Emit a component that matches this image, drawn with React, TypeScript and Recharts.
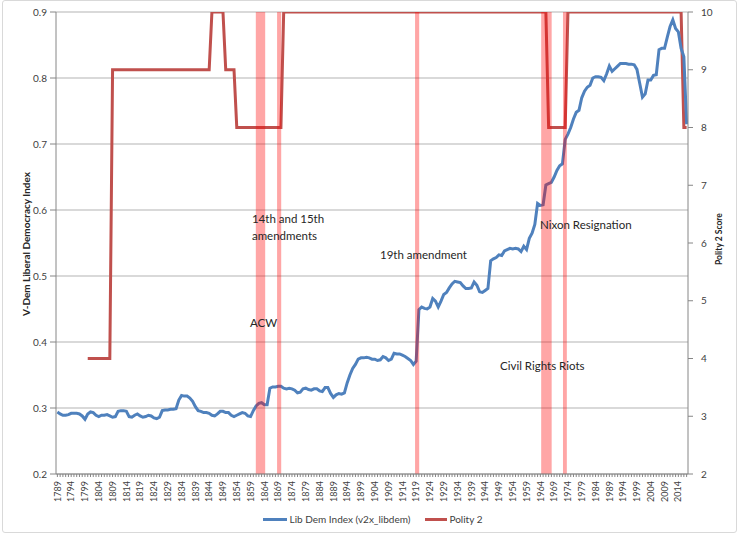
import React from 'react';
import {
  ComposedChart,
  Line,
  XAxis,
  YAxis,
  CartesianGrid,
  ReferenceArea,
  ReferenceDot,
  Legend,
} from 'recharts';

const FONT = 'Lato, "Liberation Sans", Arial, sans-serif';

const startYear = 1789;

// V-Dem liberal democracy index, 1789 .. 2017
const libDem: number[] = [
  0.294,
  0.291, 0.289, 0.289, 0.290, 0.292, 0.292, 0.292, 0.291, 0.288, 0.283,
  0.291, 0.294, 0.293, 0.289, 0.287, 0.289, 0.289, 0.290, 0.288, 0.286,
  0.287, 0.295, 0.296, 0.296, 0.295, 0.287, 0.286, 0.289, 0.291, 0.288,
  0.286, 0.287, 0.289, 0.288, 0.285, 0.284, 0.286, 0.296, 0.297, 0.297,
  0.298, 0.298, 0.299, 0.312, 0.319, 0.318, 0.318, 0.315, 0.310, 0.302,
  0.296, 0.295, 0.293, 0.293, 0.292, 0.289, 0.288, 0.291, 0.295, 0.295,
  0.293, 0.293, 0.289, 0.287, 0.289, 0.291, 0.293, 0.292, 0.288, 0.287,
  0.296, 0.303, 0.307, 0.308, 0.305, 0.305, 0.330, 0.332, 0.332, 0.333,
  0.333, 0.330, 0.329, 0.330, 0.329, 0.327, 0.323, 0.324, 0.329, 0.330,
  0.328, 0.327, 0.329, 0.329, 0.326, 0.325, 0.331, 0.331, 0.322, 0.316,
  0.320, 0.322, 0.321, 0.323, 0.338, 0.350, 0.360, 0.366, 0.374, 0.376,
  0.376, 0.377, 0.376, 0.374, 0.374, 0.372, 0.373, 0.378, 0.376, 0.372,
  0.374, 0.383, 0.382, 0.382, 0.380, 0.378, 0.375, 0.372, 0.366, 0.371,
  0.449, 0.453, 0.451, 0.450, 0.453, 0.466, 0.462, 0.453, 0.462, 0.472,
  0.475, 0.482, 0.488, 0.492, 0.491, 0.490, 0.485, 0.481, 0.481, 0.482,
  0.491, 0.486, 0.476, 0.475, 0.478, 0.481, 0.523, 0.526, 0.528, 0.532,
  0.531, 0.538, 0.540, 0.542, 0.541, 0.542, 0.541, 0.537, 0.545, 0.540,
  0.557, 0.565, 0.578, 0.610, 0.607, 0.608, 0.638, 0.640, 0.642, 0.650,
  0.660, 0.667, 0.670, 0.707, 0.715, 0.725, 0.738, 0.748, 0.751, 0.770,
  0.780, 0.786, 0.789, 0.800, 0.802, 0.802, 0.801, 0.796, 0.806, 0.818,
  0.810, 0.814, 0.818, 0.822, 0.822, 0.822, 0.821, 0.821, 0.820, 0.813,
  0.792, 0.771, 0.776, 0.797, 0.797, 0.804, 0.805, 0.843, 0.845, 0.845,
  0.862, 0.878, 0.888, 0.875, 0.870, 0.845, 0.832, 0.730,
];

// Polity 2 score, 1789 .. 2017
const polity: (number | null)[] = [
  null,
  null, null, null, null, null, null, null, null, null, null,
  4, 4, 4, 4, 4, 4, 4, 4, 4, 9,
  9, 9, 9, 9, 9, 9, 9, 9, 9, 9,
  9, 9, 9, 9, 9, 9, 9, 9, 9, 9,
  9, 9, 9, 9, 9, 9, 9, 9, 9, 9,
  9, 9, 9, 9, 9, 10, 10, 10, 10, 10,
  9, 9, 9, 9, 8, 8, 8, 8, 8, 8,
  8, 8, 8, 8, 8, 8, 8, 8, 8, 8,
  8, 10, 10, 10, 10, 10, 10, 10, 10, 10,
  10, 10, 10, 10, 10, 10, 10, 10, 10, 10,
  10, 10, 10, 10, 10, 10, 10, 10, 10, 10,
  10, 10, 10, 10, 10, 10, 10, 10, 10, 10,
  10, 10, 10, 10, 10, 10, 10, 10, 10, 10,
  10, 10, 10, 10, 10, 10, 10, 10, 10, 10,
  10, 10, 10, 10, 10, 10, 10, 10, 10, 10,
  10, 10, 10, 10, 10, 10, 10, 10, 10, 10,
  10, 10, 10, 10, 10, 10, 10, 10, 10, 10,
  10, 10, 10, 10, 10, 10, 10, 8, 8, 8,
  8, 8, 8, 8, 10, 10, 10, 10, 10, 10,
  10, 10, 10, 10, 10, 10, 10, 10, 10, 10,
  10, 10, 10, 10, 10, 10, 10, 10, 10, 10,
  10, 10, 10, 10, 10, 10, 10, 10, 10, 10,
  10, 10, 10, 10, 10, 10, 8, 8,
];

const years: number[] = libDem.map((_, i) => startYear + i);

const labelYears: number[] = [
  1789, 1794, 1799, 1804, 1809, 1814, 1819, 1824, 1829, 1834, 1839, 1844,
  1849, 1854, 1859, 1864, 1869, 1874, 1879, 1884, 1889, 1894, 1899, 1904,
  1909, 1914, 1919, 1924, 1929, 1934, 1939, 1944, 1949, 1954, 1959, 1964,
  1969, 1974, 1979, 1984, 1989, 1994, 1999, 2004, 2009, 2014,
];

const leftTicks: number[] = [0.2, 0.3, 0.4, 0.5, 0.6, 0.7, 0.8, 0.9];
const rightTicks: number[] = [2, 3, 4, 5, 6, 7, 8, 9, 10];

// event bands (years)
const bands = [
  { from: 1860.9, to: 1864.3 },
  { from: 1868.6, to: 1870.1 },
  { from: 1918.6, to: 1920.1 },
  { from: 1964.3, to: 1968.1 },
  { from: 1972.2, to: 1973.6 },
];

// annotation texts: anchored at (year, index value) on the left axis
const notes = [
  { text: '14th and 15th', year: 1859.5, value: 0.581 },
  { text: 'amendments', year: 1859.5, value: 0.555 },
  { text: 'ACW', year: 1858.8, value: 0.422 },
  { text: '19th amendment', year: 1905.9, value: 0.526 },
  { text: 'Nixon Resignation', year: 1963.9, value: 0.571 },
  { text: 'Civil Rights Riots', year: 1949.4, value: 0.358 },
];

const seriesNames = { libDem: 'Lib Dem Index (v2x_libdem)', polity: 'Polity 2' };
const COLORS = { libDem: '#4F81BD', polity: '#C0504D', band: '#FF0000' };

const data = years.map((year, i) => ({ year, libDem: libDem[i], polity: polity[i] }));

const XTick = (props: any) => {
  const { x, y, payload } = props;
  if (!labelYears.includes(payload.value)) return <g />;
  return (
    <text
      transform={`translate(${x},${y}) rotate(-90)`}
      textAnchor="end"
      dy="0.35em"
      fontSize={9}
      fill="#404040"
      fontFamily={FONT}
    >
      {payload.value}
    </text>
  );
};

const LegendContent = () => (
  <div
    style={{
      display: 'flex',
      justifyContent: 'center',
      alignItems: 'center',
      height: 14,
      marginTop: 0,
      fontFamily: FONT,
      fontSize: 10,
      color: '#404040',
      paddingLeft: 6,
    }}
  >
    <div style={{ width: 24, height: 3, background: COLORS.libDem }} />
    <span style={{ marginLeft: 3 }}>{seriesNames.libDem}</span>
    <div style={{ width: 22, height: 3, background: COLORS.polity, marginLeft: 15 }} />
    <span style={{ marginLeft: 2 }}>{seriesNames.polity}</span>
  </div>
);

export default function App() {
  return (
    <div style={{ position: 'absolute', left: 0, top: 0, width: 739, height: 536, background: '#fff' }}>
      <div
        style={{
          position: 'absolute',
          left: 2,
          top: 0,
          width: 733,
          height: 531,
          border: '1px solid #d9d9d9',
          borderRadius: 3,
        }}
      />
      <ComposedChart
        width={739}
        height={536}
        data={data}
        margin={{ top: 12, right: 0, bottom: 8, left: 0 }}
        style={{ position: 'absolute', left: 0, top: 0 }}
      >
        <CartesianGrid yAxisId="left" vertical={false} stroke="#b3b3b3" />
        <XAxis
          dataKey="year"
          type="number"
          domain={[1788.5, 2017.5]}
          ticks={years}
          interval={0}
          tick={<XTick />}
          tickSize={3}
          tickMargin={4}
          height={40}
          axisLine={{ stroke: '#868686' }}
          tickLine={{ stroke: '#868686' }}
          allowDataOverflow
        />
        <YAxis
          yAxisId="left"
          orientation="left"
          width={56}
          domain={[0.2, 0.9]}
          ticks={leftTicks}
          interval={0}
          tickFormatter={(v: number) => v.toFixed(1)}
          tickSize={6}
          tickMargin={3}
          axisLine={{ stroke: '#868686' }}
          tickLine={{ stroke: '#868686' }}
          tick={{ fontSize: 10, fill: '#404040', fontFamily: FONT }}
          allowDataOverflow
          label={(p: any) => {
            const vb = p.viewBox;
            const cx = vb.x + 30;
            const cy = vb.y + vb.height / 2 + 1;
            return (
              <text
                x={cx}
                y={cy}
                transform={`rotate(-90, ${cx}, ${cy})`}
                textAnchor="middle"
                fontSize={10}
                fontWeight="bold"
                fill="#262626"
                fontFamily={FONT}
              >
                V-Dem Liberal Democracy Index
              </text>
            );
          }}
        />
        <YAxis
          yAxisId="right"
          orientation="right"
          width={51}
          domain={[2, 10]}
          ticks={rightTicks}
          interval={0}
          tickSize={5}
          tickMargin={8}
          axisLine={{ stroke: '#868686' }}
          tickLine={{ stroke: '#868686' }}
          tick={{ fontSize: 10, fill: '#404040', fontFamily: FONT }}
          allowDataOverflow
          label={(p: any) => {
            const vb = p.viewBox;
            const cx = vb.x + 34;
            const cy = vb.y + vb.height / 2 - 4;
            return (
              <text
                x={cx}
                y={cy}
                transform={`rotate(-90, ${cx}, ${cy})`}
                textAnchor="middle"
                fontSize={8.5}
                fontWeight="bold"
                fill="#262626"
                fontFamily={FONT}
              >
                Polity 2 Score
              </text>
            );
          }}
        />
        <Line
          yAxisId="right"
          dataKey="polity"
          name={seriesNames.polity}
          type="linear"
          stroke={COLORS.polity}
          strokeWidth={3}
          dot={false}
          activeDot={false}
          connectNulls={false}
          isAnimationActive={false}
        />
        <Line
          yAxisId="left"
          dataKey="libDem"
          name={seriesNames.libDem}
          type="linear"
          stroke={COLORS.libDem}
          strokeWidth={3}
          dot={false}
          activeDot={false}
          isAnimationActive={false}
        />
        {bands.map((b, i) => (
          <ReferenceArea
            key={i}
            yAxisId="left"
            x1={b.from}
            x2={b.to}
            fill={COLORS.band}
            fillOpacity={0.35}
            stroke="none"
            ifOverflow="hidden"
            {...({ zIndex: 450 } as any)}
          />
        ))}
        {notes.map((n, i) => (
          <ReferenceDot
            key={'n' + i}
            yAxisId="left"
            x={n.year}
            y={n.value}
            r={0}
            fill="none"
            stroke="none"
            label={(p: any) => (
              <text
                x={p.viewBox.x}
                y={p.viewBox.y}
                fontSize={11.5}
                fill="#262626"
                fontFamily={FONT}
              >
                {n.text}
              </text>
            )}
          />
        ))}
        <Legend verticalAlign="bottom" content={<LegendContent />} wrapperStyle={{ bottom: 10 }} />
      </ComposedChart>
    </div>
  );
}
